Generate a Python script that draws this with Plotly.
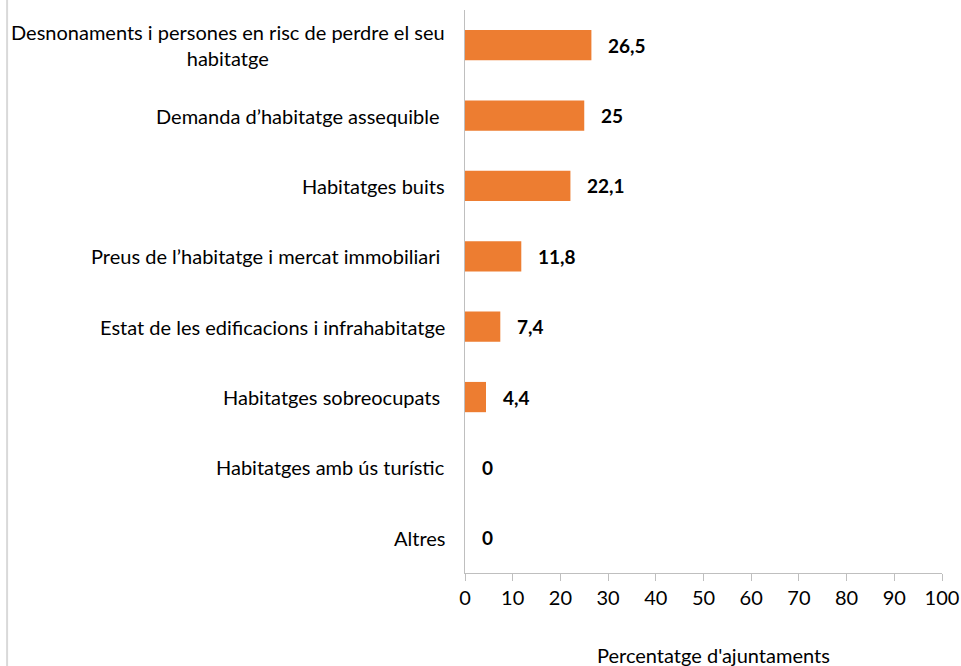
import plotly.graph_objects as go

# categories (top to bottom) and percentage of municipalities
categories = [
    "Desnonaments i persones en risc de perdre el seu<br>habitatge",
    "Demanda d\u2019habitatge assequible\u00a0",
    "Habitatges buits",
    "Preus de l\u2019habitatge i mercat immobiliari\u00a0",
    "Estat de les edificacions i infrahabitatge",
    "Habitatges sobreocupats\u00a0",
    "Habitatges amb \u00fas tur\u00edstic",
    "Altres",
]
values = [26.5, 25, 22.1, 11.8, 7.4, 4.4, 0, 0]
x_ticks = list(range(0, 101, 10))

FONT = "Lato, 'Open Sans', sans-serif"
ORANGE = "#ED7D31"
AXIS_GREY = "#BFBFBF"

fig = go.Figure()
fig.add_trace(
    go.Bar(
        x=values,
        y=list(range(len(categories))),
        orientation="h",
        marker=dict(color=ORANGE, line=dict(width=0)),
        hoverinfo="skip",
    )
)

# category labels (annotations so wrapped lines are centred like the original)
for i, cat in enumerate(categories):
    fig.add_annotation(
        x=0, xref="paper", y=i, yref="y",
        text=cat, showarrow=False, xanchor="right", align="center",
        xshift=-18, font=dict(family=FONT, size=20, color="#000000"),
    )

# value labels
for i, v in enumerate(values):
    label = f"{v:g}".replace(".", ",")
    fig.add_annotation(
        x=v, y=i, text=f"<b>{label}</b>", showarrow=False,
        xanchor="left", xshift=15, font=dict(family=FONT, size=19, color="#000000"),
    )

# axis title
fig.add_annotation(
    x=0.522, xref="paper", y=-0.1456, yref="paper", text="Percentatge d'ajuntaments",
    showarrow=False, xanchor="center", yanchor="middle",
    font=dict(family=FONT, size=20, color="#000000"),
)

# faint frame line at the far left
fig.add_shape(
    type="line", xref="paper", yref="paper",
    x0=-0.960, x1=-0.960, y0=-0.165, y1=1.0178,
    line=dict(color="#D9D9D9", width=2),
)

fig.update_xaxes(
    range=[0, 100], tickvals=x_ticks, showgrid=False, zeroline=False,
    showline=True, linecolor=AXIS_GREY, linewidth=1,
    ticks="outside", ticklen=7, tickcolor=AXIS_GREY,
    tickfont=dict(family=FONT, size=20, color="#000000"),
    ticklabeloverflow="allow", automargin=False,
    fixedrange=True,
)
fig.update_yaxes(
    range=[len(categories) - 0.5, -0.5], showticklabels=False, showgrid=False,
    zeroline=False, showline=True, linecolor=AXIS_GREY, linewidth=1,
    ticks="", automargin=False, fixedrange=True,
)
fig.update_layout(
    width=961, height=666,
    margin=dict(l=465, r=19, t=10, b=93),
    bargap=0.57,
    plot_bgcolor="white", paper_bgcolor="white",
    showlegend=False,
    font=dict(family=FONT),
)

# drop the default body margin so the figure fills the window exactly
fig.write_html(
    "out.html",
    config={"displayModeBar": False},
    post_script="document.body.style.margin='0';document.body.style.overflow='hidden';",
)
